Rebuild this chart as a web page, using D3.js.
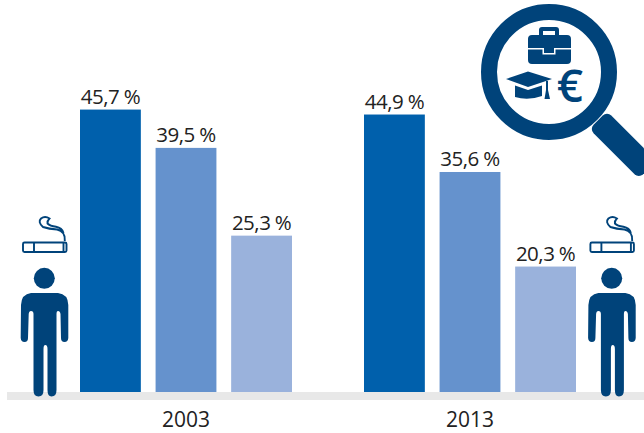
<!DOCTYPE html>
<html><head><meta charset="utf-8">
<script src="https://cdn.jsdelivr.net/npm/d3@7"></script>
<style>html,body{margin:0;background:#fff}svg{display:block}text{font-family:"Open Sans",sans-serif}</style>
</head><body><svg id="c" width="644" height="433"></svg>
<script>
const years = ["2003","2013"];
const series = ["a","b","c"];
const values2003 = [45.7,39.5,25.3];
const values2013 = [44.9,35.6,20.3];
const colors = ["#0060ac","#6592cd","#9ab2dc"];
const ICON = "#00437a";

const svg = d3.select("#c");
const base = 392;
const x0 = d3.scaleBand().domain(years).range([44,612]);
const x1 = d3.scaleBand().domain(series).range([-106,106]).paddingInner(0.195);
const y = d3.scaleLinear().domain([0,50]).range([base,base-50*6.18]);
const color = d3.scaleOrdinal().domain(series).range(colors);
const data = [{year:"2003",vals:values2003},{year:"2013",vals:values2013}];

svg.append("rect").attr("x",7).attr("y",base).attr("width",637).attr("height",8).attr("fill","#e8e8e8");

const g = svg.selectAll("g.year").data(data).join("g").attr("class","year")
  .attr("transform",d=>`translate(${x0(d.year)+x0.bandwidth()/2},0)`);
g.selectAll("rect").data(d=>d.vals.map((v,i)=>({k:series[i],v}))).join("rect")
  .attr("x",d=>x1(d.k)).attr("width",x1.bandwidth())
  .attr("y",d=>y(d.v)).attr("height",d=>base-y(d.v)).attr("fill",d=>color(d.k));
g.selectAll("text").data(d=>d.vals.map((v,i)=>({k:series[i],v}))).join("text")
  .attr("x",d=>x1(d.k)+x1.bandwidth()/2).attr("y",d=>y(d.v)-6)
  .attr("text-anchor","middle").attr("font-size",20.5).attr("letter-spacing",-0.5).attr("fill","#222")
  .text(d=>d.v.toFixed(1).replace(".",",")+"\u2009\u200a%");

const ax = svg.append("g").attr("transform",`translate(0,${base+8})`)
  .call(d3.axisBottom(x0).tickSize(0).tickPadding(12));
ax.select(".domain").remove();
ax.selectAll("text").attr("font-size",21).attr("fill","#222").attr("font-family",'"Open Sans",sans-serif');

function person(dx){
  const p = svg.append("g").attr("transform",`translate(${dx},0)`).attr("fill",ICON);
  p.append("circle").attr("cx",44.3).attr("cy",278.3).attr("r",10.5);
  p.append("path").attr("d","M31 293 H58 Q68 294 68.3 305 L68.3 338 Q68 342 64.5 342 Q61 342 61 338 L60.5 314 Q60 311 58 311 Q56.5 311 56.5 314 L56.5 390 Q56.5 396.5 51.5 396.5 Q47.5 396.5 47.5 390 L47.5 349 Q47.5 345 45.3 345 Q43.5 345 43.5 349 L43.5 390 Q43.5 396.5 38.5 396.5 Q33.5 396.5 33.5 390 L33.5 314 Q33.5 311 31 311 Q29 311 28.7 314 L28 338 Q28 342 24.5 342 Q21 342 20.7 338 L21 305 Q21.5 294 31 293 Z");
  const c = svg.append("g").attr("transform",`translate(${dx},0)`).attr("fill","none").attr("stroke",ICON).attr("stroke-width",1.9);
  c.append("rect").attr("x",23).attr("y",242.5).attr("width",43.5).attr("height",9.5).attr("rx",1.5);
  c.append("path").attr("d","M34 242.5 V252");
  c.append("path").attr("d","M63.5 242.5 V252");
  c.append("path").attr("d","M64.8 241 Q65.5 231 57 229.5 Q49 229 43 227 Q37.5 222 41 218.5 Q45 215.5 49.5 218.5 Q47 221 47.5 223.5 Q50 226 56 226.8 Q62 228 63.5 233");
}
person(0); person(567.4);

const m = svg.append("g");
m.append("circle").attr("cx",549).attr("cy",72).attr("r",60).attr("fill","#fff").attr("stroke",ICON).attr("stroke-width",16);
m.append("rect").attr("x",-4).attr("y",-12.5).attr("width",70).attr("height",25).attr("rx",6).attr("fill",ICON)
  .attr("transform","translate(601,123) rotate(45)");
m.append("path").attr("fill",ICON).attr("d","M532 35 H539 V30 Q539 27 542 27 H556 Q559 27 559 30 V35 H567 Q571 35 571 39 V60 Q571 64 567 64 H532 Q528 64 528 60 V39 Q528 35 532 35 Z M543 31 V35 H555 V31 Z");
m.append("path").attr("fill","#fff").attr("d","M528 48 H544 V53 H554 V48 H571 V49.5 H555.5 V54.5 H542.5 V49.5 H528 Z");
m.append("path").attr("fill",ICON).attr("d","M506 79 L528 71.5 L552 79 L528 87 Z");
m.append("path").attr("fill",ICON).attr("d","M515 85.5 L528 90 L542 85.5 V96 Q528 101 515 97 Z");
m.append("path").attr("fill",ICON).attr("d","M546 81 H548 V90 L550 99 H544.5 L546 90 Z");
m.append("text").attr("x",570).attr("y",102).attr("text-anchor","middle").attr("font-size",46).attr("font-weight",600).attr("fill",ICON).text("€");
</script></body></html>
